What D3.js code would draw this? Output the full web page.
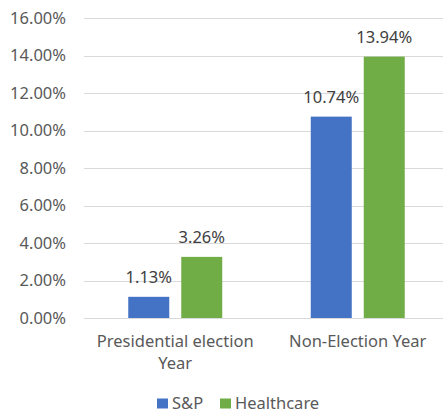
<!DOCTYPE html>
<html><head><meta charset="utf-8">
<script src="https://cdn.jsdelivr.net/npm/d3@7"></script>
<style>body{margin:0;background:#fff}svg{display:block}</style>
</head><body>
<svg id="c" width="444" height="413"></svg>
<script>
const categories = ["Presidential election|Year", "Non-Election Year"];
const seriesNames = ["S&P", "Healthcare"];
const spValues = [1.13, 10.74];
const healthValues = [3.26, 13.94];
const yTicks = [0, 2, 4, 6, 8, 10, 12, 14, 16];
const colors = ["#4472C4", "#70AD47"];

(function () {
const font = "'Noto Sans', sans-serif";
const fs = "16.5px";
const svg = d3.select("#c");
const mLeft = 84, mRight = 449, mTop = 18, mBottom = 318;

const y = d3.scaleLinear().domain([0, 16]).range([mBottom, mTop]);
const x = d3.scaleBand().domain(categories).range([mLeft, mRight]).paddingInner(0).paddingOuter(0);
const xs = d3.scaleBand().domain(seriesNames).range([0, x.bandwidth()]).paddingInner(12/53).paddingOuter(0.835);

const yAxis = d3.axisLeft(y).tickValues(yTicks).tickFormat(d => d.toFixed(2) + "%").tickSize(-(443 - mLeft)).tickPadding(18);
const gy = svg.append("g").attr("transform", `translate(${mLeft},0)`).call(yAxis);
gy.select(".domain").remove();
gy.selectAll(".tick line").attr("stroke", "#d9d9d9").attr("stroke-width", 1).attr("shape-rendering", "crispEdges");
gy.selectAll(".tick text").attr("fill", "#595959").style("font-family", font).style("font-size", fs);

const data = categories.map((c, i) => ({cat: c, vals: [spValues[i], healthValues[i]]}));

const groups = svg.selectAll(".grp").data(data).join("g").attr("class", "grp")
  .attr("transform", d => `translate(${x(d.cat)},0)`);

groups.selectAll("rect").data(d => d.vals.map((v, j) => ({v, s: seriesNames[j], j}))).join("rect")
  .attr("x", d => xs(d.s)).attr("width", xs.bandwidth())
  .attr("y", d => y(d.v)).attr("height", d => y(0) - y(d.v))
  .attr("fill", d => colors[d.j]);

groups.selectAll("text.lbl").data(d => d.vals.map((v, j) => ({v, s: seriesNames[j], j}))).join("text")
  .attr("class", "lbl")
  .attr("x", d => xs(d.s) + xs.bandwidth() / 2).attr("y", d => y(d.v) - 14)
  .attr("text-anchor", "middle").attr("fill", "#404040")
  .style("font-family", font).style("font-size", fs)
  .text(d => d.v.toFixed(2) + "%");

const xAxis = svg.append("g");
categories.forEach(c => {
  const lines = c.split("|");
  const cx = x(c) + x.bandwidth() / 2;
  const t = xAxis.append("text").attr("text-anchor", "middle").attr("fill", "#595959")
    .style("font-family", font).style("font-size", fs)
    .attr("x", cx).attr("y", 347);
  lines.forEach((l, k) => t.append("tspan").attr("x", cx).attr("dy", k === 0 ? 0 : 22).text(l));
});

const legend = svg.append("g");
const legItems = [{name: seriesNames[0], x: 157}, {name: seriesNames[1], x: 220}];
legItems.forEach((it, i) => {
  legend.append("rect").attr("x", it.x).attr("y", 398.5).attr("width", 11).attr("height", 10).attr("fill", colors[i]);
  legend.append("text").attr("x", it.x + 15).attr("y", 408.5).attr("fill", "#595959")
    .style("font-family", font).style("font-size", fs).text(it.name);
});
})();
</script>
</body></html>
